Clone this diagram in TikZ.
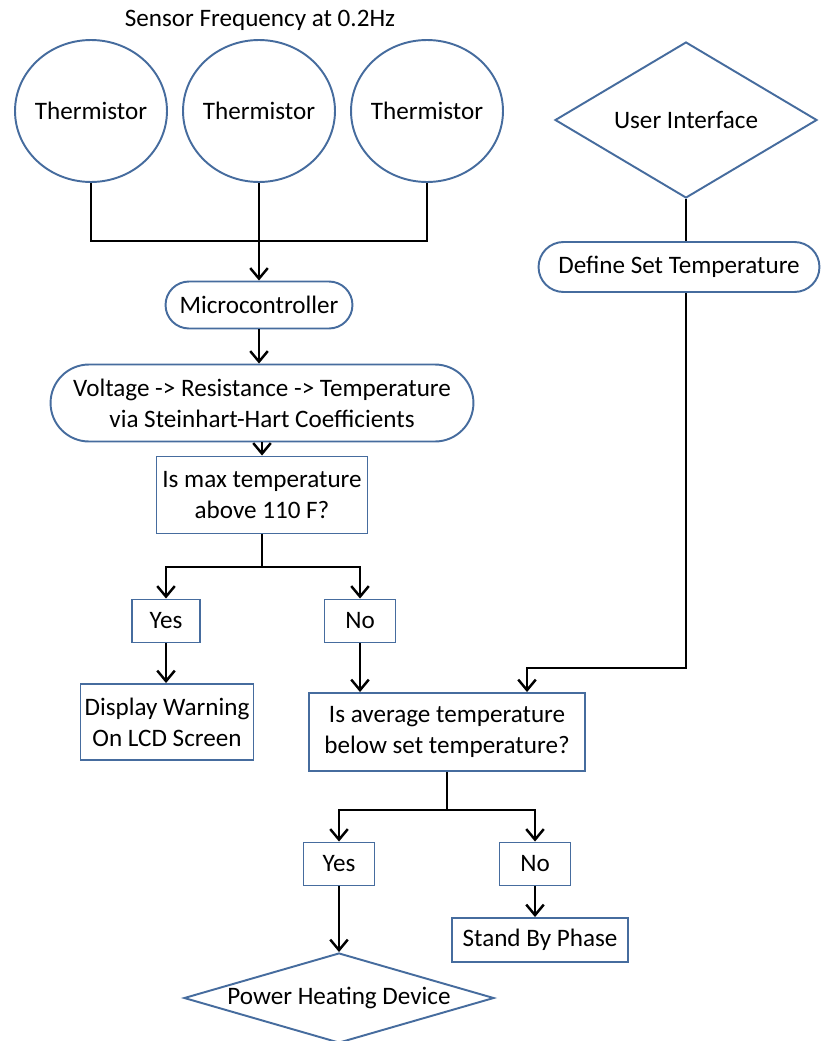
\documentclass[tikz,border=0pt]{standalone}
\usepackage{fontspec}
\setmainfont{Carlito}
\usetikzlibrary{shapes.geometric,shapes.misc,arrows.meta}
\definecolor{edgeblue}{RGB}{70,108,158}
\begin{document}
\begin{tikzpicture}[x=0.02cm,y=-0.02cm,
    every node/.style = {align=center, font=\fontsize{14.3}{17.5}\selectfont},
    blk/.style = {draw=edgeblue, line width=1.1pt, fill=white},
    sensor/.style = {blk, ellipse, inner sep=-3pt, minimum width=3.04cm, minimum height=2.84cm},
    pill/.style = {blk, rounded rectangle, inner sep=2pt},
    decide/.style = {blk, diamond, inner sep=0pt},
    box/.style = {blk, rectangle, inner sep=2pt},
    link/.style = {line width=1.5pt, black},
    go/.style = {link, -{Straight Barb[length=6pt,width=10pt,line width=1.4pt]}}]
\useasboundingbox (0,0) rectangle (823,1041);
% sensors
\node (freq) at (260,20) {Sensor Frequency at 0.2Hz};
\node[sensor] (t1) at (91,111) {Thermistor};
\node[sensor] (t2) at (259,111) {Thermistor};
\node[sensor] (t3) at (427,111) {Thermistor};
\node[pill, minimum width=3.88cm, minimum height=0.94cm] (mc) at (259,305) {Microcontroller};
\node[pill, minimum width=8.6cm, minimum height=1.54cm] (conv) at (262,403)
  {Voltage -> Resistance -> Temperature\\via Steinhart-Hart Coefficients};
\node[box, minimum width=4.22cm, minimum height=1.54cm] (maxq) at (262,495)
  {Is max temperature\\above 110 F?};
\node[box, minimum width=1.36cm, minimum height=0.86cm] (yes1) at (166,621) {Yes};
\node[box, minimum width=1.42cm, minimum height=0.86cm] (no1) at (360,621) {No};
\node[box, minimum width=3.46cm, minimum height=1.52cm] (warn) at (167,722)
  {Display Warning\\On LCD Screen};
% user side
\node[decide, aspect=1.7, minimum width=5.24cm, minimum height=3.12cm] (ui) at (686,120) {User Interface};
\node[pill, minimum width=5.76cm, minimum height=1.0cm] (dst) at (679,267) {Define Set Temperature};
\node[box, minimum width=5.52cm, minimum height=1.56cm] (avgq) at (447,732)
  {Is average temperature\\below set temperature?};
\node[box, minimum width=1.42cm, minimum height=0.86cm] (yes2) at (339,864) {Yes};
\node[box, minimum width=1.42cm, minimum height=0.86cm] (no2) at (535,864) {No};
\node[box, minimum width=3.52cm, minimum height=0.88cm] (sb) at (540,940) {Stand By Phase};
\node[decide, aspect=3.45, minimum width=6.2cm, minimum height=1.8cm] (heat) at (339,998) {Power Heating Device};
% connectors
\coordinate (j1) at (259,241);
\coordinate (s1) at (262,567);
\coordinate (k1) at (527,668);
\coordinate (s2) at (447,810);
\draw[link] (t1.south) |- (j1);
\draw[link] (t3.south) |- (j1);
\draw[go] (t2.south) -- (mc.north);
\draw[go] (mc.south) -- (conv.north -| mc.south);
\draw[go] (conv.south -| maxq.north) -- (maxq.north);
\draw[link] (maxq.south) -- (s1);
\draw[go] (s1) -| (yes1.north);
\draw[go] (s1) -| (no1.north);
\draw[go] (yes1.south) -- (yes1.south |- warn.north);
\draw[go] (no1.south) -- (no1.south |- avgq.north);
\draw[link] (ui.south) -- (ui.south |- dst.north);
\draw[go] (ui.south |- dst.south) |- (k1) -- (k1 |- avgq.north);
\draw[link] (avgq.south) -- (s2);
\draw[go] (s2) -| (yes2.north);
\draw[go] (s2) -| (no2.north);
\draw[go] (yes2.south) -- (heat.north);
\draw[go] (no2.south) -- (no2.south |- sb.north);
\end{tikzpicture}
\end{document}
